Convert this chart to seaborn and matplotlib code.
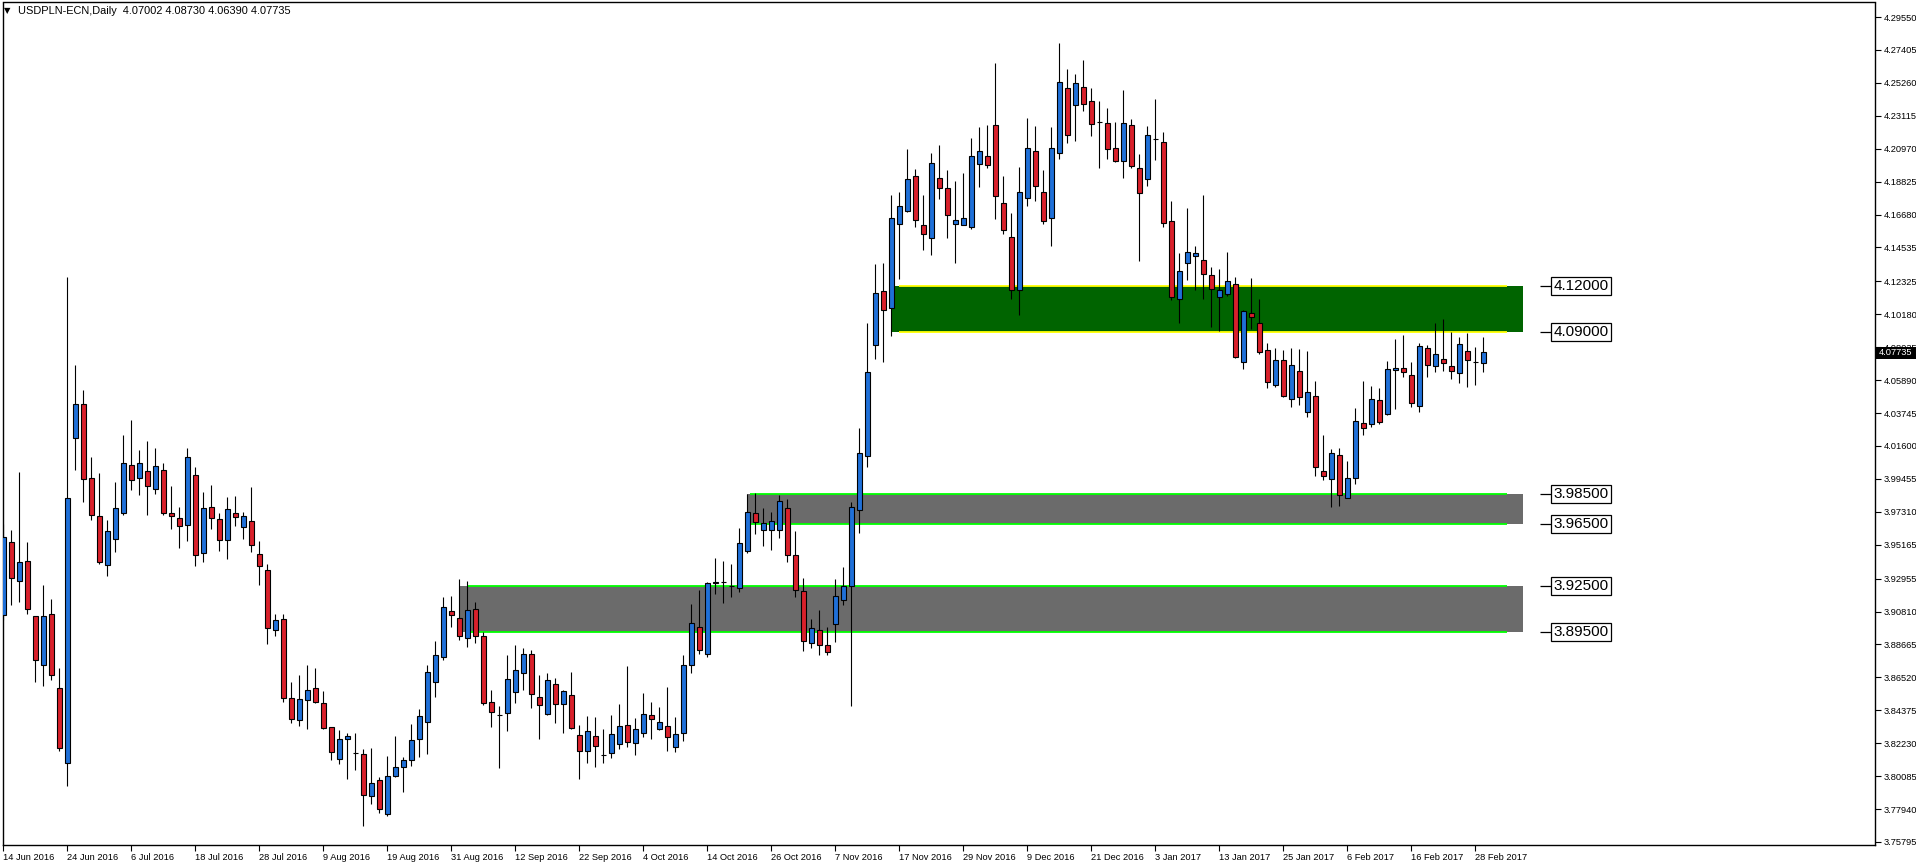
import numpy as np
import pandas as pd
import matplotlib
matplotlib.use("Agg")
import matplotlib.pyplot as plt
import seaborn as sns
from matplotlib.patches import Rectangle
from matplotlib import font_manager as fm

# ---------------- data ----------------
symbol_title = "USDPLN-ECN,Daily  4.07002 4.08730 4.06390 4.07735"
last_price = 4.07735

opens = [3.9059, 3.9534, 3.9280, 3.9410, 3.9052, 3.8733, 3.9065, 3.8583, 3.8094, 4.0212,
         4.0433, 3.9954, 3.9704, 3.9384, 3.9554, 3.9723, 4.0036, 3.9954, 3.9997, 3.9880,
         4.0003, 3.9723, 3.9691, 3.9645, 3.9971, 3.9463, 3.9762, 3.9684, 3.9547, 3.9723,
         3.9632, 3.9671, 3.9456, 3.9352, 3.8961, 3.9033, 3.8516, 3.8372, 3.8503, 3.8581,
         3.8483, 3.8327, 3.8118, 3.8249, 3.8159, 3.8151, 3.7877, 3.7981, 3.7760, 3.8008,
         3.8066, 3.8112, 3.8249, 3.8359, 3.8620, 3.8783, 3.9085, 3.9037, 3.8907, 3.9096,
         3.8920, 3.8490, 3.8407, 3.8418, 3.8555, 3.8679, 3.8803, 3.8522, 3.8412, 3.8607,
         3.8477, 3.8535, 3.8275, 3.8170, 3.8268, 3.8146, 3.8157, 3.8216, 3.8340, 3.8223,
         3.8288, 3.8405, 3.8314, 3.8333, 3.8196, 3.8288, 3.8731, 3.8978, 3.8803, 3.9270,
         3.9276, 3.9248, 3.9232, 3.9474, 3.9721, 3.9610, 3.9610, 3.9610, 3.9754, 3.9448,
         3.9213, 3.8874, 3.8959, 3.8861, 3.8998, 3.9154, 3.9246, 3.9743, 4.0095, 4.0816,
         4.1168, 4.1059, 4.1604, 4.1688, 4.1917, 4.1598, 4.1515, 4.1904, 4.1840, 4.1609,
         4.1602, 4.1585, 4.1997, 4.2047, 4.2249, 4.1741, 4.1521, 4.1176, 4.1774, 4.2080,
         4.1814, 4.1644, 4.2067, 4.2490, 4.2382, 4.2496, 4.2406, 4.2274, 4.2263, 4.2100,
         4.2019, 4.2249, 4.1970, 4.1898, 4.2159, 4.2139, 4.1625, 4.1116, 4.1352, 4.1396,
         4.1370, 4.1272, 4.1130, 4.1148, 4.1213, 4.0705, 4.1024, 4.0959, 4.0783, 4.0555,
         4.0718, 4.0464, 4.0646, 4.0379, 4.0484, 3.9995, 3.9943, 4.0099, 3.9819, 3.9949,
         4.0308, 4.0301, 4.0457, 4.0366, 4.0653, 4.0666, 4.0620, 4.0418, 4.0796, 4.0679,
         4.0725, 4.0679, 4.0633, 4.0777, 4.0709, 4.07002]

highs = [3.9651, 3.9612, 3.9990, 3.9534, 3.9052, 3.9254, 3.9163, 3.8713, 4.1261, 4.0688,
         4.0525, 4.0088, 3.9984, 3.9678, 3.9925, 4.0231, 4.0329, 4.0134, 4.0192, 4.0147,
         4.0049, 3.9899, 3.9762, 4.0147, 4.0023, 3.9860, 3.9906, 3.9723, 3.9827, 3.9834,
         3.9730, 3.9893, 3.9541, 3.9391, 3.9065, 3.9065, 3.8622, 3.8668, 3.8733, 3.8713,
         3.8561, 3.8331, 3.8309, 3.8288, 3.8288, 3.8185, 3.8192, 3.8003, 3.8138, 3.8268,
         3.8131, 3.8348, 3.8444, 3.8733, 3.8889, 3.9176, 3.9184, 3.9293, 3.9280, 3.9143,
         3.8948, 3.8570, 3.8466, 3.8798, 3.8863, 3.8844, 3.8831, 3.8668, 3.8681, 3.8648,
         3.8570, 3.8687, 3.8342, 3.8400, 3.8394, 3.8316, 3.8407, 3.8479, 3.8726, 3.8387,
         3.8550, 3.8492, 3.8459, 3.8589, 3.8394, 3.8798, 3.9130, 3.9221, 3.9272, 3.9428,
         3.9410, 3.9391, 3.9625, 3.9847, 3.9855, 3.9754, 3.9728, 3.9840, 3.9814, 3.9604,
         3.9298, 3.9031, 3.9089, 3.8978, 3.9293, 3.9371, 3.9793, 4.0275, 4.0961, 4.1344,
         4.1350, 4.1793, 4.1815, 4.2096, 4.1966, 4.1794, 4.2069, 4.2122, 4.1957, 4.1884,
         4.1939, 4.2166, 4.2236, 4.2252, 4.2655, 4.1920, 4.1680, 4.1979, 4.2296, 4.2245,
         4.1959, 4.2236, 4.2787, 4.2617, 4.2584, 4.2674, 4.2492, 4.2408, 4.2362, 4.2272,
         4.2479, 4.2292, 4.2062, 4.2243, 4.2421, 4.2203, 4.1757, 4.1417, 4.1711, 4.1462,
         4.1795, 4.1326, 4.1313, 4.1424, 4.1261, 4.1046, 4.1254, 4.1118, 4.0831, 4.0796,
         4.0785, 4.0796, 4.0792, 4.0779, 4.0583, 4.0229, 4.0138, 4.0145, 4.0060, 4.0405,
         4.0581, 4.0549, 4.0536, 4.0712, 4.0855, 4.0881, 4.0705, 4.0829, 4.0816, 4.0959,
         4.0985, 4.0905, 4.0868, 4.0894, 4.0803, 4.08730]

lows = [3.9029, 3.9124, 3.9140, 3.9068, 3.8622, 3.8596, 3.8635, 3.8172, 3.7944, 4.0003,
        3.9792, 3.9678, 3.9393, 3.9315, 3.9469, 3.9710, 3.9873, 3.9843, 3.9710, 3.9850,
        3.9713, 3.9622, 3.9498, 3.9541, 3.9378, 3.9401, 3.9622, 3.9478, 3.9426, 3.9640,
        3.9556, 3.9466, 3.9257, 3.8872, 3.8922, 3.8492, 3.8357, 3.8337, 3.8318, 3.8483,
        3.8314, 3.8114, 3.8090, 3.7992, 3.8051, 3.7686, 3.7829, 3.7766, 3.7747, 3.8001,
        3.7907, 3.8077, 3.8131, 3.8155, 3.8522, 3.8768, 3.8982, 3.8896, 3.8852, 3.8874,
        3.8470, 3.8331, 3.8064, 3.8305, 3.8487, 3.8570, 3.8455, 3.8253, 3.8405, 3.8357,
        3.8292, 3.8314, 3.7988, 3.8096, 3.8070, 3.8092, 3.8125, 3.8183, 3.8200, 3.8148,
        3.8262, 3.8253, 3.8307, 3.8174, 3.8168, 3.8239, 3.8683, 3.8806, 3.8787, 3.9195,
        3.9139, 3.9178, 3.9210, 3.9463, 3.9584, 3.9510, 3.9484, 3.9558, 3.9402, 3.9178,
        3.8826, 3.8842, 3.8800, 3.8796, 3.8885, 3.9126, 3.8468, 3.9591, 4.0021, 4.0725,
        4.0705, 4.0878, 4.1250, 4.1682, 4.1589, 4.1439, 4.1407, 4.1772, 4.1512, 4.1352,
        4.1600, 4.1572, 4.1847, 4.1968, 4.1642, 4.1538, 4.1120, 4.1011, 4.1725, 4.1759,
        4.1607, 4.1460, 4.2032, 4.2137, 4.2144, 4.2342, 4.2182, 4.1974, 4.2032, 4.2012,
        4.1909, 4.1974, 4.1363, 4.1851, 4.2025, 4.1589, 4.1110, 4.0964, 4.1241, 4.1176,
        4.1120, 4.0937, 4.0910, 4.1139, 4.0736, 4.0663, 4.0924, 4.0757, 4.0536, 4.0542,
        4.0477, 4.0412, 4.0425, 4.0347, 3.9962, 3.9936, 3.9760, 3.9767, 3.9818, 3.9910,
        4.0229, 4.0282, 4.0301, 4.0360, 4.0399, 4.0607, 4.0412, 4.0379, 4.0607, 4.0640,
        4.0646, 4.0594, 4.0568, 4.0542, 4.0559, 4.06390]

closes = [3.9564, 3.9300, 3.9401, 3.9098, 3.8765, 3.9052, 3.8668, 3.8192, 3.9821, 4.0433,
          3.9945, 3.9710, 3.9401, 3.9606, 3.9756, 4.0052, 3.9938, 4.0049, 3.9899, 4.0029,
          3.9726, 3.9704, 3.9638, 4.0088, 3.9450, 3.9756, 3.9691, 3.9547, 3.9749, 3.9697,
          3.9704, 3.9515, 3.9378, 3.8974, 3.9026, 3.8518, 3.8379, 3.8509, 3.8568, 3.8490,
          3.8320, 3.8164, 3.8249, 3.8268, 3.8159, 3.7884, 3.7962, 3.7793, 3.8008, 3.8066,
          3.8112, 3.8242, 3.8398, 3.8685, 3.8796, 3.9111, 3.9059, 3.8920, 3.9089, 3.8920,
          3.8483, 3.8425, 3.8407, 3.8640, 3.8698, 3.8803, 3.8542, 3.8470, 3.8633, 3.8477,
          3.8561, 3.8320, 3.8170, 3.8301, 3.8203, 3.8146, 3.8281, 3.8333, 3.8229, 3.8314,
          3.8412, 3.8379, 3.8359, 3.8262, 3.8281, 3.8731, 3.9004, 3.8829, 3.9265, 3.9272,
          3.9276, 3.9248, 3.9526, 3.9728, 3.9666, 3.9656, 3.9669, 3.9799, 3.9448, 3.9219,
          3.8887, 3.8972, 3.8861, 3.8816, 3.9180, 3.9246, 3.9760, 4.0112, 4.0640, 4.1155,
          4.1044, 4.1643, 4.1722, 4.1898, 4.1631, 4.1541, 4.2003, 4.1840, 4.1664, 4.1631,
          4.1644, 4.2047, 4.2080, 4.1990, 4.1787, 4.1565, 4.1176, 4.1814, 4.2100, 4.1851,
          4.1625, 4.2100, 4.2529, 4.2184, 4.2522, 4.2386, 4.2260, 4.2274, 4.2094, 4.2019,
          4.2263, 4.1981, 4.1807, 4.2184, 4.2159, 4.1611, 4.1131, 4.1299, 4.1422, 4.1415,
          4.1279, 4.1181, 4.1175, 4.1233, 4.0738, 4.1037, 4.0998, 4.0770, 4.0575, 4.0718,
          4.0484, 4.0686, 4.0477, 4.0510, 4.0021, 3.9962, 4.0112, 3.9838, 3.9949, 4.0321,
          4.0275, 4.0464, 4.0314, 4.0660, 4.0666, 4.0640, 4.0438, 4.0809, 4.0686, 4.0757,
          4.0699, 4.0646, 4.0822, 4.0718, 4.0709, 4.07735]

date_labels = ["14 Jun 2016", "24 Jun 2016", "6 Jul 2016", "18 Jul 2016", "28 Jul 2016",
               "9 Aug 2016", "19 Aug 2016", "31 Aug 2016", "12 Sep 2016", "22 Sep 2016",
               "4 Oct 2016", "14 Oct 2016", "26 Oct 2016", "7 Nov 2016", "17 Nov 2016",
               "29 Nov 2016", "9 Dec 2016", "21 Dec 2016", "3 Jan 2017", "13 Jan 2017",
               "25 Jan 2017", "6 Feb 2017", "16 Feb 2017", "28 Feb 2017"]
date_label_step = 8

price_ticks = [4.29550, 4.27405, 4.25260, 4.23115, 4.20970, 4.18825, 4.16680, 4.14535,
               4.12325, 4.10180, 4.08035, 4.05890, 4.03745, 4.01600, 3.99455, 3.97310,
               3.95165, 3.92955, 3.90810, 3.88665, 3.86520, 3.84375, 3.82230, 3.80085,
               3.77940, 3.75795]

zone_top = [4.12000, 3.98500, 3.92500]
zone_bottom = [4.09000, 3.96500, 3.89500]

# ---------------- style ----------------
sns.set_theme(style="white")
try:
    fm.findfont("Liberation Sans Narrow", fallback_to_default=False)
    FAM = ["Liberation Sans Narrow", "Liberation Sans", "DejaVu Sans"]
    small_fs, label_fs, title_fs = 8.0, 13.5, 8.6
except Exception:
    FAM = ["Liberation Sans", "DejaVu Sans"]
    small_fs, label_fs, title_fs = 6.7, 11.0, 7.9
plt.rcParams["font.family"] = FAM

BLUE = "#1f70d8"
RED = "#d9202b"
DKGREEN = "#006400"
GRAY = "#6b6b6b"
YELLOW = "#ffff00"
LIME = "#00ff00"

W, H = 1916, 866
fig = plt.figure(figsize=(W / 100, H / 100), dpi=100)
fig.patch.set_facecolor("white")
ax = fig.add_axes([2.5 / W, 21 / H, (1875 - 2.5) / W, (845 - 2.5) / H])
ax.set_facecolor("white")

df = pd.DataFrame({"open": opens, "high": highs, "low": lows, "close": closes})
df["idx"] = np.arange(len(df))
df["up"] = df["close"] >= df["open"]
df["body_lo"] = df[["open", "close"]].min(axis=1)
df["body_h"] = (df["close"] - df["open"]).abs()

# zones (rectangles + border lines) drawn below candles
zone_rect_x = [(111.1, 189.96, DKGREEN, YELLOW, 111.95),
               (92.96, 189.96, GRAY, LIME, 93.3),
               (56.96, 189.96, GRAY, LIME, 58.1)]
line_end = 187.96
for (x0, x1, fc, lc, lx0), top, bot in zip(zone_rect_x, zone_top, zone_bottom):
    ax.add_patch(Rectangle((x0, bot), x1 - x0, top - bot, facecolor=fc,
                           edgecolor="none", zorder=1))
    ax.hlines([top, bot], lx0, line_end, colors=lc, linewidth=1.3, zorder=1.5)
    for lvl in (top, bot):
        ax.hlines(lvl, 192.1, 193.43, colors="black", linewidth=0.9, zorder=4)
        hh = 9 / 1534.7
        ax.add_patch(Rectangle((193.43, lvl - hh), 200.95 - 193.43, 2 * hh,
                               facecolor="white", edgecolor="black",
                               linewidth=0.9, zorder=4))
        ax.text(197.19, lvl, f"{lvl:.5f}", ha="center", va="center",
                fontsize=label_fs, color="black", zorder=5)

# wicks
ax.vlines(df["idx"], df["low"], df["high"], colors="black", linewidth=0.8, zorder=2)
# bodies
ax.bar(df["idx"], df["body_h"], bottom=df["body_lo"], width=0.58,
       color=np.where(df["up"], BLUE, RED), edgecolor="black",
       linewidth=0.8, zorder=3)

ax.set_xlim(-0.1, 233.96)
ax.set_ylim(3.75598, 4.30495)

for s in ax.spines.values():
    s.set_visible(True)
    s.set_color("black")
    s.set_linewidth(1.0)
ax.grid(False)

ax.yaxis.tick_right()
ax.set_yticks(price_ticks)
ax.set_yticklabels([f"{v:.5f}" for v in price_ticks])
ax.tick_params(axis="y", which="both", right=True, left=False, labelright=True,
               labelleft=False, direction="out", length=4, width=0.8, pad=2,
               labelsize=small_fs, colors="black")

xt = np.arange(len(date_labels)) * date_label_step
ax.set_xticks(xt)
ax.set_xticklabels(date_labels, ha="left")
ax.tick_params(axis="x", which="both", bottom=True, top=False, direction="out",
               length=4, width=0.8, pad=1.5, labelsize=small_fs, colors="black")
for lab in ax.get_xticklabels():
    lab.set_horizontalalignment("left")

# header text
fig.text(4 / W, 1 - 10.5 / H, "\u25bc", fontsize=6, family=["DejaVu Sans"],
         ha="left", va="center", color="black")
fig.text(18 / W, 1 - 10.5 / H, symbol_title, fontsize=title_fs, ha="left",
         va="center", color="black")

# current price marker on price scale
fig.add_artist(Rectangle((1876 / 100, (H - 359) / 100), 40 / 100, 12.5 / 100,
                         transform=fig.dpi_scale_trans, facecolor="black",
                         edgecolor="none", zorder=10))
fig.text(1879 / W, 1 - 352.5 / H, f"{last_price:.5f}", fontsize=small_fs,
         color="white", ha="left", va="center", zorder=11)

fig.savefig("out.png", dpi=100, facecolor="white")
